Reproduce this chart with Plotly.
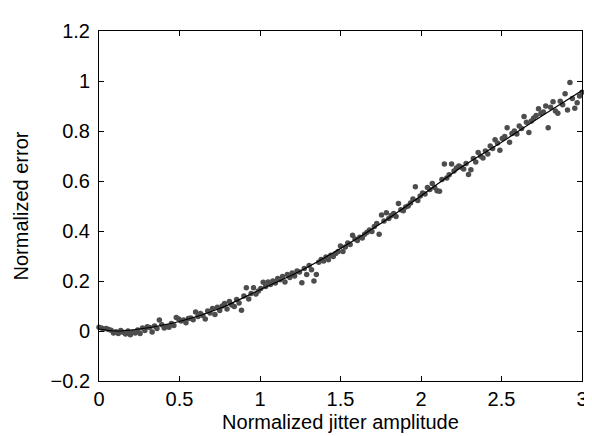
import plotly.graph_objects as go

# x sample positions (normalized jitter amplitude)
x_vals = [
    0.000, 0.015, 0.030, 0.045, 0.060, 0.075, 0.090, 0.105, 0.120, 0.135,
    0.150, 0.165, 0.180, 0.195, 0.210, 0.225, 0.240, 0.255, 0.270, 0.285,
    0.300, 0.315, 0.330, 0.345, 0.360, 0.375, 0.390, 0.405, 0.420, 0.435,
    0.450, 0.465, 0.480, 0.495, 0.510, 0.525, 0.540, 0.555, 0.570, 0.585,
    0.600, 0.615, 0.630, 0.645, 0.660, 0.675, 0.690, 0.705, 0.720, 0.735,
    0.750, 0.765, 0.780, 0.795, 0.810, 0.825, 0.840, 0.855, 0.870, 0.885,
    0.900, 0.915, 0.930, 0.945, 0.960, 0.975, 0.990, 1.005, 1.020, 1.035,
    1.050, 1.065, 1.080, 1.095, 1.110, 1.125, 1.140, 1.155, 1.170, 1.185,
    1.200, 1.215, 1.230, 1.245, 1.260, 1.275, 1.290, 1.305, 1.320, 1.335,
    1.350, 1.365, 1.380, 1.395, 1.410, 1.425, 1.440, 1.455, 1.470, 1.485,
    1.500, 1.515, 1.530, 1.545, 1.560, 1.575, 1.590, 1.605, 1.620, 1.635,
    1.650, 1.665, 1.680, 1.695, 1.710, 1.725, 1.740, 1.755, 1.770, 1.785,
    1.800, 1.815, 1.830, 1.845, 1.860, 1.875, 1.890, 1.905, 1.920, 1.935,
    1.950, 1.965, 1.980, 1.995, 2.010, 2.025, 2.040, 2.055, 2.070, 2.085,
    2.100, 2.115, 2.130, 2.145, 2.160, 2.175, 2.190, 2.205, 2.220, 2.235,
    2.250, 2.265, 2.280, 2.295, 2.310, 2.325, 2.340, 2.355, 2.370, 2.385,
    2.400, 2.415, 2.430, 2.445, 2.460, 2.475, 2.490, 2.505, 2.520, 2.535,
    2.550, 2.565, 2.580, 2.595, 2.610, 2.625, 2.640, 2.655, 2.670, 2.685,
    2.700, 2.715, 2.730, 2.745, 2.760, 2.775, 2.790, 2.805, 2.820, 2.835,
    2.850, 2.865, 2.880, 2.895, 2.910, 2.925, 2.940, 2.955, 2.970, 2.985,
    3.000,
]

# measured normalized error (dots)
err_vals = [
    0.015, 0.012, 0.008, 0.010, 0.006, 0.003, -0.008, -0.003, -0.010, 0.002,
    -0.005, -0.012, 0.000, -0.015, -0.004, -0.008, 0.004, -0.010, 0.012, 0.002,
    0.017, 0.014, -0.004, 0.020, 0.010, 0.044, 0.025, 0.012, 0.018, 0.015,
    0.030, 0.022, 0.054, 0.048, 0.040, 0.044, 0.033, 0.050, 0.052, 0.045,
    0.076, 0.058, 0.070, 0.062, 0.048, 0.080, 0.072, 0.090, 0.066, 0.095,
    0.082, 0.100, 0.110, 0.088, 0.118, 0.104, 0.098, 0.126, 0.112, 0.083,
    0.140, 0.173, 0.128, 0.150, 0.173, 0.148, 0.160, 0.170, 0.195, 0.178,
    0.196, 0.186, 0.200, 0.192, 0.210, 0.205, 0.218, 0.196, 0.226, 0.214,
    0.232, 0.220, 0.240, 0.236, 0.193, 0.250, 0.226, 0.262, 0.245, 0.200,
    0.226, 0.275, 0.286, 0.280, 0.296, 0.285, 0.303, 0.298, 0.310, 0.318,
    0.340, 0.318, 0.336, 0.352, 0.346, 0.383, 0.368, 0.362, 0.375, 0.372,
    0.387, 0.395, 0.404, 0.398, 0.418, 0.430, 0.387, 0.464, 0.440, 0.473,
    0.450, 0.462, 0.470, 0.458, 0.510, 0.485, 0.481, 0.496, 0.500, 0.512,
    0.528, 0.577, 0.522, 0.540, 0.552, 0.548, 0.574, 0.566, 0.590, 0.574,
    0.561, 0.559, 0.606, 0.668, 0.612, 0.625, 0.668, 0.640, 0.652, 0.660,
    0.655, 0.648, 0.670, 0.626, 0.645, 0.690, 0.676, 0.714, 0.700, 0.692,
    0.720, 0.708, 0.740, 0.730, 0.765, 0.752, 0.723, 0.770, 0.778, 0.813,
    0.755, 0.790, 0.800, 0.788, 0.820, 0.810, 0.858, 0.835, 0.794, 0.840,
    0.852, 0.862, 0.889, 0.870, 0.876, 0.900, 0.813, 0.895, 0.917, 0.880,
    0.871, 0.919, 0.905, 0.949, 0.884, 0.994, 0.930, 0.891, 0.913, 0.940,
    0.955,
]

# fitted curve (read at regular points)
fit_x = [0.0, 0.1, 0.25, 0.5, 0.75, 1.0, 1.25, 1.5, 1.75, 2.0, 2.25, 2.5, 2.75, 3.0]
fit_y = [0.008, 0.0, 0.008, 0.038, 0.09, 0.165, 0.24, 0.33, 0.43, 0.54, 0.655, 0.755, 0.86, 0.962]

x_ticks = [0, 0.5, 1, 1.5, 2, 2.5, 3]
y_ticks = [-0.2, 0, 0.2, 0.4, 0.6, 0.8, 1, 1.2]

FONT = "Liberation Sans, Arial, sans-serif"
FS = 20

fig = go.Figure()
fig.add_trace(go.Scatter(
    x=x_vals, y=err_vals, mode="markers",
    marker=dict(color="#4d4d4d", size=5.5, line=dict(width=0)),
    showlegend=False, cliponaxis=False,
))
fig.add_trace(go.Scatter(
    x=fit_x, y=fit_y, mode="lines",
    line=dict(color="black", width=1.2, shape="spline", smoothing=0.8),
    showlegend=False,
))

axis_common = dict(
    showgrid=False, zeroline=False, showline=True, linecolor="black", linewidth=1,
    mirror="ticks", ticks="inside", ticklen=5, tickcolor="black", tickwidth=1,
    tickfont=dict(family=FONT, size=FS, color="black"),
)

fig.update_xaxes(
    range=[0, 3], tickvals=x_ticks, ticktext=[f"{v:g}" for v in x_ticks],
    title=dict(text="Normalized jitter amplitude",
               font=dict(family=FONT, size=FS, color="black"),
               standoff=5),
    **axis_common,
)
fig.update_yaxes(
    range=[-0.2, 1.2], tickvals=y_ticks,
    ticktext=[("\u2212" + f"{-v:g}") if v < 0 else f"{v:g}" for v in y_ticks],
    ticklabelstandoff=4,
    title=dict(text="Normalized error",
               font=dict(family=FONT, size=FS, color="black"),
               standoff=16),
    **axis_common,
)

fig.update_layout(
    width=592, height=436,
    margin=dict(l=91, r=14, t=12, b=63),
    paper_bgcolor="white", plot_bgcolor="white",
    font=dict(family=FONT, size=FS, color="black"),
)

fig.write_html("out.html")
